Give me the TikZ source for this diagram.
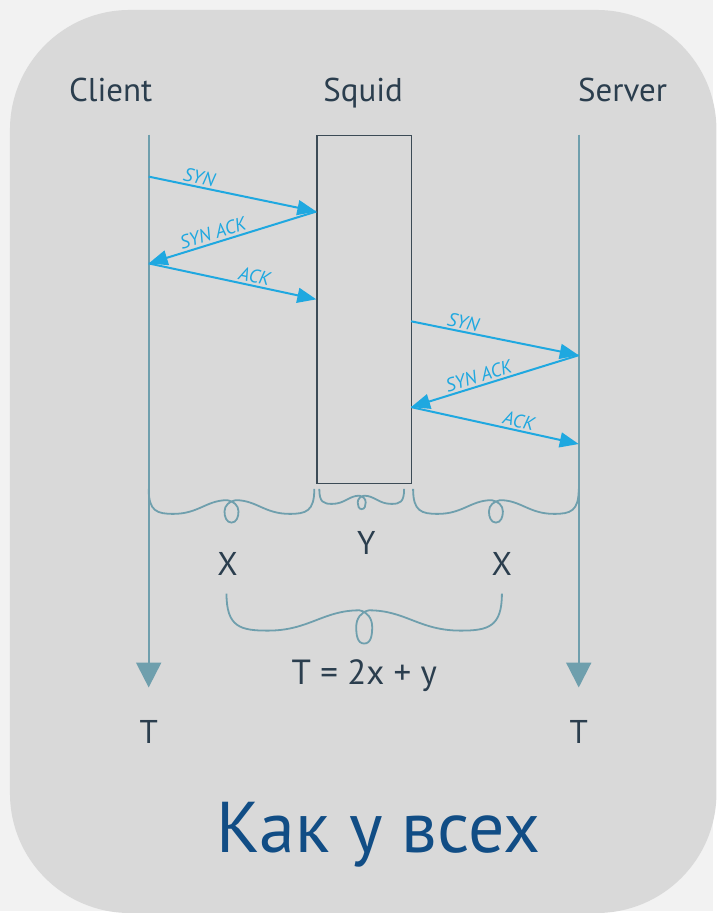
\documentclass[tikz,border=0pt]{standalone}
\usepackage{fontspec}
\setmainfont{PT Sans}
\usetikzlibrary{arrows.meta,calc}
\definecolor{outercol}{HTML}{F2F2F2}
\definecolor{panelcol}{HTML}{D9D9D9}
\definecolor{lifecol}{HTML}{6F9FAD}
\definecolor{msgcol}{HTML}{1FA8E0}
\definecolor{textcol}{HTML}{2B3E4E}
\definecolor{boxcol}{HTML}{3C4B56}
\definecolor{titlecol}{HTML}{114D85}
\tikzset{
  lifeline/.style={
    draw=lifecol,
    line width=2.2pt,
    -{Triangle[length=25pt,width=25pt]}
  },
  message/.style={
    draw=msgcol,
    line width=2pt,
    -{Triangle[length=19pt,width=15pt]}
  },
  msglabel/.style={
    text=msgcol,
    font=\fontsize{19}{19}\selectfont\itshape,
    sloped,
    above,
    inner sep=2pt
  },
  brace/.style={
    draw=lifecol,
    line width=1.8pt
  },
  actor/.style={
    text=textcol,
    anchor=base,
    font=\fontsize{33}{33}\selectfont
  },
  title/.style={
    text=titlecol,
    anchor=base,
    font=\fontsize{72}{72}\selectfont
  }
}

\begin{document}
\begin{tikzpicture}[x=1pt,y=-1pt]
  \fill[outercol] (0,0) rectangle (715,913);
  \fill[panelcol, rounded corners=120pt] (10,10) rectangle (718,915);
  \useasboundingbox (0,0) rectangle (715,913);

  % parties
  \node[actor] (client) at (111,102) {Client};
  \node[actor] (squid label) at (364,102) {Squid};
  \node[actor] (server) at (624,102) {Server};
  \node[draw=boxcol, line width=1.3pt, minimum width=95pt, minimum height=349pt,
        inner sep=0pt, anchor=north west] (squid) at (317,135) {};

  % lifelines
  \coordinate (ctop) at (149,135);
  \coordinate (cend) at (149,689);
  \coordinate (stop) at (580,135);
  \coordinate (send) at (580,689);
  \draw[lifeline] (ctop) -- (cend);
  \draw[lifeline] (stop) -- (send);

  % handshake points
  \coordinate (c1) at (149,177);
  \coordinate (q1) at (317,212);
  \coordinate (c2) at (149,264);
  \coordinate (q2) at (317,300);
  \coordinate (q3) at (412,322);
  \coordinate (s1) at (580,356);
  \coordinate (q4) at (412,408);
  \coordinate (s2) at (580,445);
  \foreach \a/\b/\p/\t in {c1/q1/0.29/SYN, q1/c2/0.6/SYN ACK, c2/q2/0.62/ACK,
                           q3/s1/0.3/SYN, s1/q4/0.58/SYN ACK, q4/s2/0.63/ACK}{
    \draw[message] (\a) -- (\b) node[msglabel, pos=\p] {\t};
  }

  % braces
  \foreach \xa/\xb/\yy/\dd/\lw in {149/315/490/25/7, 320/405/490/15/4,
                                   414/580/490/25/7, 227/503/595/37/8}{
    \pgfmathsetmacro\xm{(\xa+\xb)/2}
    \pgfmathsetmacro\ww{(\xb-\xa)/2}
    \draw[brace] (\xa,\yy) .. controls (\xa,\yy+0.9*\dd) and (\xa+0.1*\ww,\yy+\dd) .. (\xa+0.3*\ww,\yy+\dd)
      .. controls (\xa+0.6*\ww,\yy+\dd) and (\xm-0.3*\ww,\yy+0.45*\dd) .. (\xm-0.6*\lw,\yy+0.45*\dd)
      to[out=-10,in=90] (\xm+\lw,\yy+0.9*\dd) to[out=-90,in=0] (\xm,\yy+1.35*\dd)
      to[out=180,in=-90] (\xm-\lw,\yy+0.9*\dd) to[out=90,in=190] (\xm+0.6*\lw,\yy+0.45*\dd)
      .. controls (\xm+0.3*\ww,\yy+0.45*\dd) and (\xb-0.6*\ww,\yy+\dd) .. (\xb-0.3*\ww,\yy+\dd)
      .. controls (\xb-0.1*\ww,\yy+\dd) and (\xb,\yy+0.9*\dd) .. (\xb,\yy);
  }

  % times
  \node[actor] (xleft) at (228,577) {X};
  \node[actor] (y) at (367,556) {Y};
  \node[actor] (xright) at (503,577) {X};
  \node[actor, font=\fontsize{35}{35}\selectfont] (total) at (365,686) {T = 2x + y};
  \node[actor] (tleft) at (149,745) {T};
  \node[actor] (tright) at (580,745) {T};

  \node[title] (title) at (379,854) {Как у всех};
\end{tikzpicture}
\end{document}
